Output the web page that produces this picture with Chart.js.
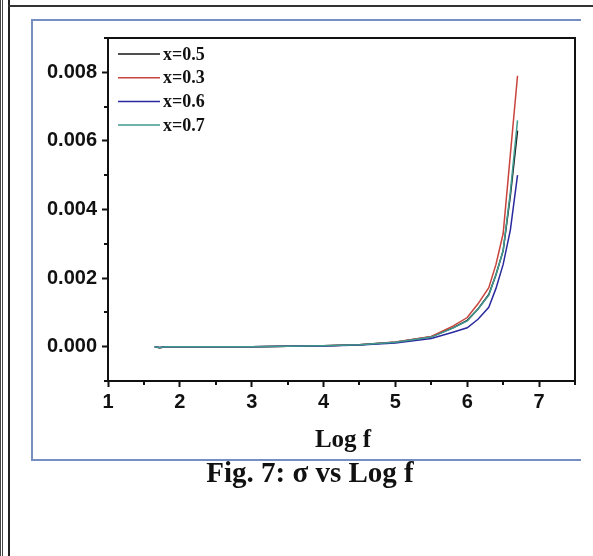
<!DOCTYPE html>
<html>
<head>
<meta charset="utf-8">
<script src="https://cdn.jsdelivr.net/npm/chart.js@4.4.1/dist/chart.umd.min.js"></script>
<style>
  html, body { margin: 0; padding: 0; background: #fff; }
  body { width: 593px; height: 556px; position: relative; overflow: hidden; }
  .rule { position: absolute; }
  #chartBox { position: absolute; left: 33px; top: 21px; width: 548px; height: 409px; }
  .axisTitle {
    position: absolute; left: 243px; width: 200px; top: 426px; text-align: center;
    font: bold 25px "Liberation Serif", "Times New Roman", serif; line-height: 25px; color: #111;
  }
  .caption {
    position: absolute; left: 110px; width: 400px; top: 458px; text-align: center;
    font: bold 29px "Liberation Serif", "Times New Roman", serif; line-height: 29px; color: #111;
  }
</style>
</head>
<body>
  <!-- page frame lines -->
  <div class="rule" style="left:0;top:0;width:1px;height:556px;background:#444"></div>
  <div class="rule" style="left:2px;top:0;width:1px;height:556px;background:#444"></div>
  <div class="rule" style="left:8px;top:0;width:2px;height:556px;background:#222"></div>
  <div class="rule" style="left:8px;top:5px;width:585px;height:2px;background:#333"></div>
  <!-- blue figure box -->
  <div class="rule" style="left:31px;top:19px;width:2px;height:442px;background:#7590c0"></div>
  <div class="rule" style="left:31px;top:19px;width:550px;height:2px;background:#7590c0"></div>
  <div class="rule" style="left:31px;top:459px;width:550px;height:2px;background:#7590c0"></div>

  <div id="chartBox"><canvas id="sigmaChart"></canvas></div>
  <div class="axisTitle">Log f</div>
  <div class="caption">Fig. 7: σ vs Log f</div>

<script>
// log f values shared by all series
const logF = [1.65, 1.72, 1.8, 2.0, 2.5, 3.0, 3.5, 4.0, 4.5, 5.0, 5.5, 5.8, 6.0, 6.15, 6.3, 6.4, 6.5, 6.6, 6.7];

// sigma
const sigmaX05 = [0, -0.00003, 0, 0, 0, 0, 0.00001, 0.00003, 0.00006, 0.00013, 0.00029, 0.00055, 0.00077, 0.00110, 0.00152, 0.0021, 0.0028, 0.0044, 0.0063];
const sigmaX03 = [0, -0.00003, 0, 0, 0, 0, 0.00001, 0.00003, 0.00006, 0.00014, 0.00030, 0.00060, 0.00085, 0.00125, 0.00172, 0.0024, 0.0033, 0.0056, 0.0079];
const sigmaX06 = [0, -0.00002, 0, 0, 0, 0, 0.00001, 0.00002, 0.00005, 0.00011, 0.00024, 0.00042, 0.00055, 0.00080, 0.00115, 0.0017, 0.0024, 0.0034, 0.0050];
const sigmaX07 = [0, -0.00003, 0, 0, 0, 0, 0.00001, 0.00003, 0.00006, 0.00013, 0.00028, 0.00054, 0.00075, 0.00110, 0.00150, 0.0021, 0.0028, 0.0045, 0.0066];

const seriesLabels = ['x=0.5', 'x=0.3', 'x=0.6', 'x=0.7'];
const seriesColors = ['#151515', '#c8443c', '#2a2a9e', '#3f9a90'];
const seriesData = [sigmaX05, sigmaX03, sigmaX06, sigmaX07];
const drawOrder = [3, 2, 1, 0]; // x=0.7 ends up on top

const xMajor = [1, 2, 3, 4, 5, 6, 7];
const xMinor = [1.5, 2.5, 3.5, 4.5, 5.5, 6.5, 7.5];
const yMajor = [0, 0.002, 0.004, 0.006, 0.008];
const yMinor = [-0.001, 0.001, 0.003, 0.005, 0.007, 0.009];

const tickFont = { family: '"Liberation Sans", Arial, sans-serif', size: 20, weight: 'bold' };

// closed black frame around the plot + short minor ticks
const framePlugin = {
  id: 'frame',
  afterDraw(chart) {
    const { ctx, chartArea: a, scales } = chart;
    ctx.save();
    ctx.strokeStyle = '#111';
    ctx.lineWidth = 2;
    ctx.strokeRect(a.left, a.top, a.right - a.left, a.bottom - a.top);
    ctx.beginPath();
    xMinor.forEach(v => {
      const px = Math.round(scales.x.getPixelForValue(v));
      ctx.moveTo(px, a.bottom);
      ctx.lineTo(px, a.bottom + 4);
    });
    yMinor.forEach(v => {
      const py = Math.round(scales.y.getPixelForValue(v));
      ctx.moveTo(a.left, py);
      ctx.lineTo(a.left - 4, py);
    });
    ctx.stroke();
    ctx.restore();
  }
};

// legend drawn inside the plot, top-left
const insideLegend = {
  id: 'insideLegend',
  afterDraw(chart) {
    const { ctx, chartArea: a } = chart;
    ctx.save();
    ctx.font = 'bold 18px "Liberation Serif", "Times New Roman", serif';
    ctx.textBaseline = 'middle';
    chart.data.datasets.forEach((ds, i) => {
      const y = a.top + 16 + i * 23.7;
      ctx.strokeStyle = ds.borderColor;
      ctx.lineWidth = 1.5;
      ctx.beginPath();
      ctx.moveTo(a.left + 10, y);
      ctx.lineTo(a.left + 52, y);
      ctx.stroke();
      ctx.fillStyle = '#111';
      ctx.fillText(ds.label, a.left + 55, y + 1);
    });
    ctx.restore();
  }
};

new Chart(document.getElementById('sigmaChart'), {
  type: 'line',
  data: {
    datasets: seriesData.map((vals, i) => ({
      label: seriesLabels[i],
      data: vals.map((v, j) => ({ x: logF[j], y: v })),
      borderColor: seriesColors[i],
      borderWidth: 1.5,
      pointRadius: 0,
      tension: 0,
      fill: false,
      order: drawOrder[i]
    }))
  },
  options: {
    responsive: true,
    maintainAspectRatio: false,
    animation: false,
    layout: { padding: { left: 0, top: 16, right: 6, bottom: 9 } },
    plugins: { legend: { display: false }, tooltip: { enabled: false } },
    scales: {
      x: {
        type: 'linear',
        min: 1, max: 7.5,
        afterBuildTicks: s => { s.ticks = xMajor.map(v => ({ value: v })); },
        afterFit: s => { s.height = 40; },
        grid: { drawOnChartArea: false, drawTicks: true, tickLength: 6, color: '#111', tickWidth: 2 },
        border: { display: true, color: '#111', width: 2 },
        ticks: { color: '#111', font: tickFont, padding: 3, maxRotation: 0, autoSkip: false,
                 callback: v => String(v) }
      },
      y: {
        min: -0.001, max: 0.009,
        afterBuildTicks: s => { s.ticks = yMajor.map(v => ({ value: v })); },
        afterFit: s => { s.width = 75; },
        grid: { drawOnChartArea: false, drawTicks: true, tickLength: 6, color: '#111', tickWidth: 2 },
        border: { display: true, color: '#111', width: 2 },
        ticks: { color: '#111', font: tickFont, padding: 5, autoSkip: false,
                 callback: v => v.toFixed(3) }
      }
    }
  },
  plugins: [framePlugin, insideLegend]
});
</script>
</body>
</html>
